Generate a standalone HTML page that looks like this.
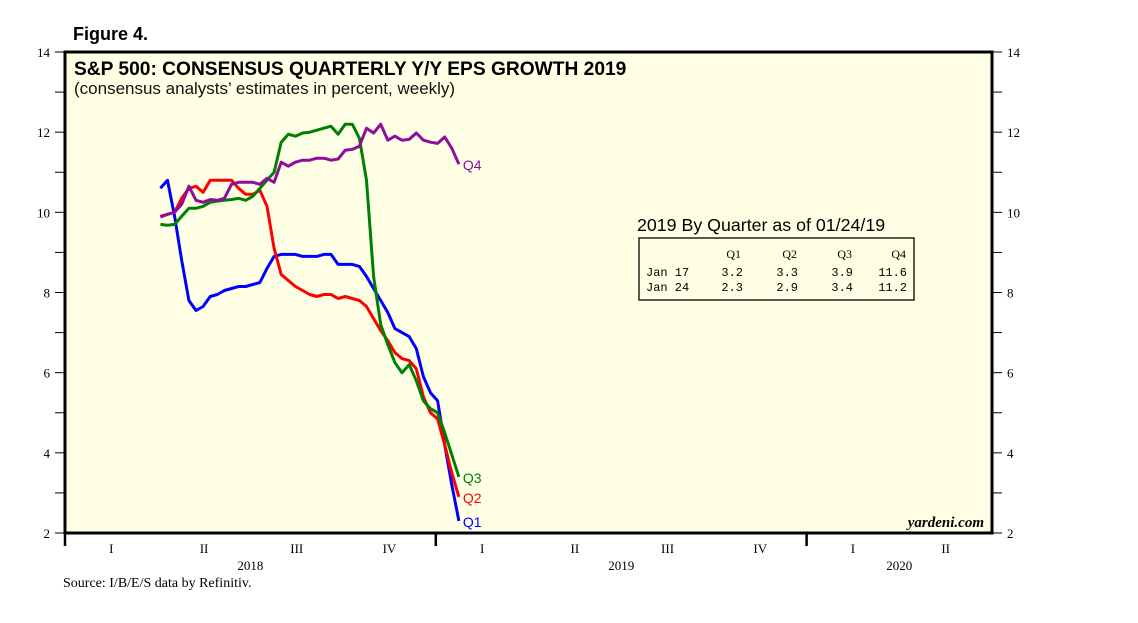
<!DOCTYPE html>
<html><head><meta charset="utf-8">
<style>
body{margin:0;background:#fff;width:1138px;height:623px;overflow:hidden;font-family:"Liberation Sans",sans-serif}
svg{display:block}
</style></head>
<body>
<svg id="chart" width="1138" height="623" xmlns="http://www.w3.org/2000/svg">
<text x="73" y="40" font-size="18" font-weight="bold" font-family="Liberation Sans">Figure 4.</text>
<rect x="65" y="52" width="927" height="481" fill="#ffffe6"/>
<g id="axes"></g>
<g id="series"></g>
<path d="M65,52 H992 V533 H65 Z" fill="none" stroke="#000" stroke-width="3"/>
<text x="74" y="75" font-size="19.2" font-weight="bold">S&amp;P 500: CONSENSUS QUARTERLY Y/Y EPS GROWTH 2019</text>
<text x="74" y="94" font-size="17" fill="#111">(consensus analysts’ estimates in percent, weekly)</text>
<text x="637" y="231" font-size="17.8">2019 By Quarter as of 01/24/19</text>
<g font-family="Liberation Mono" font-size="12">
<rect x="639" y="238" width="275" height="62" fill="none" stroke="#000" stroke-width="1.3"/>
<text x="741" y="258" text-anchor="end" font-family="Liberation Serif">Q1</text>
<text x="797" y="258" text-anchor="end" font-family="Liberation Serif">Q2</text>
<text x="852" y="258" text-anchor="end" font-family="Liberation Serif">Q3</text>
<text x="906" y="258" text-anchor="end" font-family="Liberation Serif">Q4</text>
<text x="646" y="276">Jan 17</text><text x="743" y="276" text-anchor="end">3.2</text><text x="798" y="276" text-anchor="end">3.3</text><text x="853" y="276" text-anchor="end">3.9</text><text x="907" y="276" text-anchor="end">11.6</text>
<text x="646" y="291">Jan 24</text><text x="743" y="291" text-anchor="end">2.3</text><text x="798" y="291" text-anchor="end">2.9</text><text x="853" y="291" text-anchor="end">3.4</text><text x="907" y="291" text-anchor="end">11.2</text>
</g>
<text x="984" y="527" font-size="15" font-style="italic" font-weight="bold" text-anchor="end" font-family="Liberation Serif">yardeni.com</text>
<text x="63" y="587" font-size="14" font-family="Liberation Serif">Source: I/B/E/S data by Refinitiv.</text>
</svg>
<script>
const yTicks=[2,4,6,8,10,12,14];
const quarterLabels=["I","II","III","IV","I","II","III","IV","I","II"];
const yearLabels=["2018","2019","2020"];
const startDay=94; // Apr 5 2018, days since Jan 1 2018
const weekCount=43;
const q1Values=[10.6,10.8,9.9,8.8,7.8,7.55,7.65,7.9,7.95,8.05,8.1,8.15,8.15,8.2,8.25,8.6,8.9,8.95,8.95,8.95,8.9,8.9,8.9,8.95,8.95,8.7,8.7,8.7,8.65,8.4,8.1,7.8,7.5,7.1,7.0,6.9,6.6,5.9,5.5,5.3,4.2,3.2,2.3];
const q2Values=[9.9,9.95,10.0,10.35,10.6,10.65,10.5,10.8,10.8,10.8,10.8,10.6,10.45,10.45,10.55,10.15,9.1,8.45,8.3,8.15,8.05,7.95,7.9,7.95,7.95,7.85,7.9,7.85,7.8,7.65,7.35,7.05,6.8,6.5,6.35,6.3,6.1,5.4,5.0,4.85,4.2,3.5,2.9];
const q3Values=[9.7,9.68,9.7,9.9,10.1,10.1,10.15,10.25,10.28,10.3,10.32,10.35,10.3,10.4,10.6,10.8,11.0,11.75,11.95,11.9,11.98,12.0,12.05,12.1,12.15,11.95,12.2,12.2,11.85,10.8,8.4,7.2,6.7,6.25,6.0,6.2,5.8,5.3,5.1,5.0,4.5,3.95,3.4];
const q4Values=[9.88,9.95,10.0,10.2,10.65,10.3,10.25,10.32,10.3,10.35,10.7,10.75,10.75,10.75,10.7,10.85,10.75,11.25,11.15,11.25,11.3,11.3,11.35,11.35,11.3,11.33,11.55,11.57,11.65,12.1,11.98,12.2,11.8,11.9,11.8,11.82,11.98,11.8,11.75,11.72,11.88,11.6,11.2];
const seriesNames=["Q1","Q2","Q3","Q4"];
const seriesColors=["#0000ff","#ff0000","#008000","#900c9c"];

const X0=65,X1=992,Y0=533,Y1=52,NQ=10;
const qW=(X1-X0)/NQ;
function xDay(d){return X0+d*qW/91.3125;}
function yVal(v){return Y0-(v-2)*(Y0-Y1)/12;}
const NS="http://www.w3.org/2000/svg";
function mk(tag,attrs,parent,text){const e=document.createElementNS(NS,tag);for(const k in attrs)e.setAttribute(k,attrs[k]);if(text!==undefined)e.textContent=text;parent.appendChild(e);return e;}
const axes=document.getElementById('axes');
for(let v=2;v<=14;v++){
  const y=yVal(v);
  const lt=mk('line',{x1:55,x2:65,y1:y,y2:y,stroke:'#000','stroke-width':1},axes);
  
  
  const rt=mk('line',{x1:992,x2:1002,y1:y,y2:y,stroke:'#000','stroke-width':1},axes);
  
  
}
yTicks.forEach(v=>{
  const y=yVal(v);
  const l=mk('text',{x:50,y:y+5,'font-size':13,'text-anchor':'end','font-family':'Liberation Serif'},axes,String(v));
  
  
  const r=mk('text',{x:1007,y:y+5,'font-size':13,'font-family':'Liberation Serif'},axes,String(v));
  
  
});
quarterLabels.forEach((q,i)=>{
  const t=mk('text',{x:X0+(i+0.5)*qW,y:553,'font-size':13,'text-anchor':'middle','font-family':'Liberation Serif'},axes,q);
  
  
});
[0,4,8].forEach((qi,i)=>{
  const x=X0+qi*qW;
  const tk=mk('line',{x1:x,x2:x,y1:533,y2:546,stroke:'#000','stroke-width':2.5},axes);
  
  
  const span=i<2?4:2;
  const t=mk('text',{x:x+span*qW/2,y:570,'font-size':13,'text-anchor':'middle','font-family':'Liberation Serif'},axes,yearLabels[i]);
  
  
});
const sg=document.getElementById('series');
[q1Values,q2Values,q3Values,q4Values].forEach((vals,si)=>{
  const pts=vals.map((v,i)=>xDay(startDay+i*7).toFixed(1)+','+yVal(v).toFixed(1)).join(' ');
  const pl=mk('polyline',{points:pts,fill:'none',stroke:seriesColors[si],'stroke-width':3,'stroke-linejoin':'round'},sg);
  
  
  const last=vals[vals.length-1];
  const lx=xDay(startDay+(vals.length-1)*7)+4;
  const lb=mk('text',{x:lx,y:yVal(last)+6,'font-size':14,fill:seriesColors[si]},sg,seriesNames[si]);
  
  
});
</script>
</body></html>
